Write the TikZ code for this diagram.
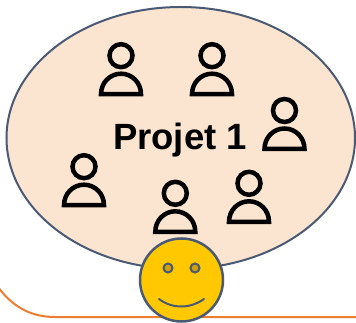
\documentclass[tikz,border=0pt]{standalone}
\usepackage{fontspec}
\setmainfont{Liberation Sans}
\definecolor{peach}{HTML}{FBE5D0}
\definecolor{slateline}{HTML}{4A5A75}
\definecolor{sun}{HTML}{FFC800}
\definecolor{sundark}{HTML}{CFA20C}
\definecolor{orangeline}{HTML}{ED7D31}
\tikzset{
  blob/.style={draw=slateline,fill=peach,line width=2pt},
  face/.style={draw=slateline,fill=sun,line width=2.5pt},
  eye/.style={draw=slateline,fill=sundark,line width=2pt},
  smile/.style={draw=slateline,line width=2pt,line cap=round},
  baseline curve/.style={draw=orangeline,line width=2pt},
  member/.pic={
    \draw[line width=4.5pt] (0,0) circle (11.5);
    \draw[line width=4.5pt,line join=miter] (-20,38.5) .. controls (-20,27) and (-11,18) .. (0,18) .. controls (11,18) and (20,27) .. (20,38.5) -- cycle;
  }
}
\begin{document}
\begin{tikzpicture}[x=1pt,y=-1pt]
\useasboundingbox (0,0) rectangle (356,323);
\draw[baseline curve] (-2,287) .. controls (12,306) and (30,317) .. (55,317) -- (358,317);
\draw[blob] (180.75,138) ellipse [x radius=174.25,y radius=131];
\pic at (121,55.7) {member};
\pic at (212,55.7) {member};
\pic at (284.5,110.5) {member};
\pic at (84,166.7) {member};
\pic at (175.3,193.3) {member};
\pic at (249,183.3) {member};
\node[font=\bfseries] (title) at (180,140) {\fontsize{36.5}{40}\selectfont Projet 1};
\draw[face] (181.5,280) circle (41.5);
\draw[eye] (168,268) circle (4.5);
\draw[eye] (195,268) circle (4.5);
\draw[smile] (159,299) .. controls (172,309) and (190,309) .. (204,299);
\end{tikzpicture}
\end{document}
